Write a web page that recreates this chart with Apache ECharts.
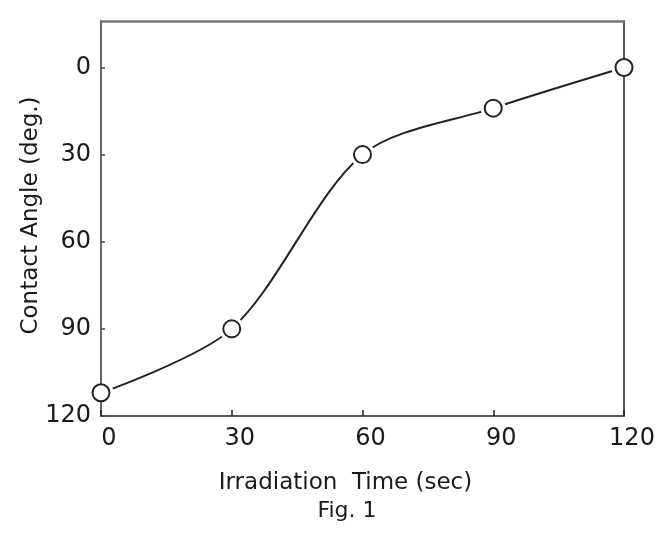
<!DOCTYPE html>
<html>
<head>
<meta charset="utf-8">
<script src="https://cdn.jsdelivr.net/npm/echarts@6/dist/echarts.min.js"></script>
<style>
  html, body { margin: 0; padding: 0; background: #fff; }
  #myChart { width: 664px; height: 534px; }
</style>
</head>
<body>
<div id="myChart"></div>
<script>
var timeSec = [0, 30, 60, 90, 120];
var contactAngle = [112, 90, 30, 14, 0];
var yTicks = [0, 30, 60, 90, 120];
var xTicks = [0, 30, 60, 90, 120];

window.onload = function () {
    var myChart = echarts.init(document.getElementById('myChart'));
    var font = 'DejaVu Sans';
    var points = timeSec.map(function (t, i) { return [t, contactAngle[i]]; });

    var option = {
        animation: false,
        title: {
            text: 'Fig. 1',
            left: 342,
            top: 495,
            textAlign: 'center',
            textStyle: { fontFamily: font, fontSize: 22, fontWeight: 'normal', color: '#1a1a1a' }
        },
        grid: { left: 101, right: 40, top: 21, bottom: 118 },
        xAxis: [{
            type: 'value',
            position: 'bottom',
            min: 0,
            max: 120,
            z: 3,
            name: 'Irradiation  Time (sec)',
            nameLocation: 'middle',
            nameGap: 56,
            nameTextStyle: { fontFamily: font, fontSize: 23, color: '#1a1a1a', padding: [0, 34, 0, 0] },
            splitLine: { show: false },
            axisLine: { onZero: false, lineStyle: { color: '#222', width: 1.5 } },
            axisTick: { inside: true, length: 6, customValues: xTicks, lineStyle: { color: '#222', width: 1.5 } },
            axisLabel: { fontFamily: font, fontSize: 24, color: '#1a1a1a', margin: 11, padding: [0, 0, 0, 16],
                customValues: xTicks }
        }, {
            type: 'value',
            position: 'top',
            min: 0,
            max: 120,
            z: 3,
            splitLine: { show: false },
            axisLine: { onZero: false, lineStyle: { color: '#777', width: 2.5 } },
            axisTick: { show: false },
            axisLabel: { show: false }
        }],
        yAxis: [{
            type: 'value',
            position: 'left',
            inverse: true,
            min: -16,
            max: 120,
            z: 3,
            name: 'Contact Angle (deg.)',
            nameLocation: 'middle',
            nameGap: 58,
            nameMoveOverlap: false,
            nameRotate: 90,
            nameTextStyle: { fontFamily: font, fontSize: 23, color: '#1a1a1a', padding: [0, 0, 0, 6] },
            splitLine: { show: false },
            axisLine: { onZero: false, lineStyle: { color: '#666', width: 2 } },
            axisTick: { inside: true, length: 4, customValues: yTicks, lineStyle: { color: '#444', width: 1.5 } },
            axisLabel: { fontFamily: font, fontSize: 24, color: '#1a1a1a', margin: 10, customValues: yTicks }
        }, {
            type: 'value',
            position: 'right',
            inverse: true,
            min: -16,
            max: 120,
            z: 3,
            splitLine: { show: false },
            axisLine: { onZero: false, lineStyle: { color: '#222', width: 1.5 } },
            axisTick: { show: false },
            axisLabel: { show: false }
        }],
        series: [{
            name: 'curve',
            type: 'line',
            data: points,
            smooth: 0.3,
            symbol: 'none',
            z: 1,
            lineStyle: { color: '#222', width: 2 }
        }, {
            name: 'gap',
            type: 'scatter',
            data: points,
            symbolSize: 25,
            z: 2,
            silent: true,
            itemStyle: { color: '#fff', opacity: 1 }
        }, {
            name: 'marker',
            type: 'scatter',
            data: points,
            symbolSize: 17,
            z: 4,
            itemStyle: { color: '#fff', borderColor: '#222', borderWidth: 2, opacity: 1 }
        }]
    };
    myChart.setOption(option);
};
</script>
</body>
</html>
